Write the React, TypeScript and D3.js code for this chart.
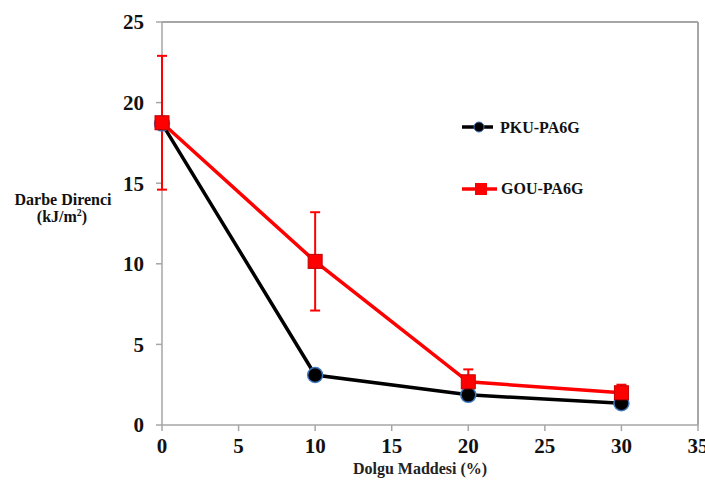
import React from 'react'
import * as d3 from 'd3'

// chart data
const fillerPct = [0, 10, 20, 30]
const pkuValues = [18.7, 3.1, 1.87, 1.35]
const gouValues = [18.75, 10.15, 2.68, 2.0]
const gouErrLow = [14.6, 7.1, 2.68, 2.0]
const gouErrHigh = [22.9, 13.2, 3.45, 2.5]
const xTicks = [0, 5, 10, 15, 20, 25, 30, 35]
const yTicks = [0, 5, 10, 15, 20, 25]

const W = 705, H = 486
const FONT = "'Liberation Serif', 'Times New Roman', serif"

const App = () => {
    const margin = { top: 22, right: 7, bottom: 61, left: 162 }
    const x = d3.scaleLinear().domain([0, 35]).range([margin.left, W - margin.right])
    const y = d3.scaleLinear().domain([0, 25]).range([H - margin.bottom, margin.top])

    const line = d3.line<number>()
        .x((d, i) => x(fillerPct[i]))
        .y(d => y(d))

    const axisColor = '#a6a6a6'
    const red = '#ff0000'
    const txt = { fontFamily: FONT, fontWeight: 'bold' as const }

    return (
        <div style={{ position: 'absolute', left: 0, top: 0 }}>
            <svg width={W} height={H} style={{ display: 'block', background: '#fff' }}>
                {/* frame */}
                <line x1={x(0)} x2={x(35)} y1={y(25)} y2={y(25)} stroke={axisColor} strokeWidth={2} />
                <line x1={x(35)} x2={x(35)} y1={y(25)} y2={y(0)} stroke={axisColor} strokeWidth={2} />
                <line x1={x(0)} x2={x(35)} y1={y(0)} y2={y(0)} stroke={axisColor} strokeWidth={1.5} />
                <line x1={x(0)} x2={x(0)} y1={y(25)} y2={y(0)} stroke={axisColor} strokeWidth={1.5} />

                {/* y axis */}
                {yTicks.map(t => (
                    <g key={'y' + t}>
                        <line x1={x(0) - 6} x2={x(0)} y1={y(t)} y2={y(t)} stroke={axisColor} strokeWidth={1.5} />
                        <text x={x(0) - 18} y={y(t)} dy="0.35em" textAnchor="end"
                            style={{ ...txt, fontSize: 21 }} fill="#111">{t}</text>
                    </g>
                ))}

                {/* x axis */}
                {xTicks.map(t => (
                    <g key={'x' + t}>
                        <line x1={x(t)} x2={x(t)} y1={y(0)} y2={y(0) + 6} stroke={axisColor} strokeWidth={1.5} />
                        <text x={x(t)} y={y(0) + 28} textAnchor="middle"
                            style={{ ...txt, fontSize: 21 }} fill="#111">{t}</text>
                    </g>
                ))}

                {/* axis titles */}
                <text x={420} y={474} textAnchor="middle" style={{ ...txt, fontSize: 16 }} fill="#222">
                    Dolgu Maddesi (%)
                </text>
                <text x={63} y={205} textAnchor="middle" style={{ ...txt, fontSize: 16 }} fill="#111">
                    Darbe Direnci
                </text>
                <text x={62} y={222} textAnchor="middle" style={{ ...txt, fontSize: 16 }} fill="#111">
                    (kJ/m<tspan dy={-6} style={{ fontSize: 10 }}>2</tspan><tspan dy={6}>)</tspan>
                </text>

                {/* GOU error bars */}
                {fillerPct.map((p, i) => (
                    <g key={'e' + i} stroke={red} strokeWidth={2}>
                        <line x1={x(p)} x2={x(p)} y1={y(gouErrLow[i])} y2={y(gouErrHigh[i])} />
                        <line x1={x(p) - 5} x2={x(p) + 5} y1={y(gouErrHigh[i])} y2={y(gouErrHigh[i])} />
                        <line x1={x(p) - 5} x2={x(p) + 5} y1={y(gouErrLow[i])} y2={y(gouErrLow[i])} />
                    </g>
                ))}

                {/* PKU series */}
                <path d={line(pkuValues) || ''} fill="none" stroke="#000" strokeWidth={3.5} />
                {pkuValues.map((v, i) => (
                    <circle key={'c' + i} cx={x(fillerPct[i])} cy={y(v)} r={7.5} fill="#000" stroke="#3d78c0" strokeWidth={1.5} />
                ))}

                {/* GOU series */}
                <path d={line(gouValues) || ''} fill="none" stroke={red} strokeWidth={3.5} />
                {gouValues.map((v, i) => (
                    <rect key={'r' + i} x={x(fillerPct[i]) - 7} y={y(v) - 7} width={14} height={14}
                        fill={red} stroke="#c00000" strokeWidth={1} />
                ))}

                {/* legend */}
                <line x1={462} x2={493} y1={127} y2={127} stroke="#000" strokeWidth={3.5} />
                <circle cx={479} cy={127} r={5} fill="#000" stroke="#3d78c0" strokeWidth={1} />
                <text x={500} y={133} style={{ ...txt, fontSize: 16 }} fill="#111">PKU-PA6G</text>

                <line x1={462} x2={497} y1={189} y2={189} stroke={red} strokeWidth={3.5} />
                <rect x={475} y={183} width={12} height={12} fill={red} />
                <text x={501} y={194} style={{ ...txt, fontSize: 16 }} fill="#111">GOU-PA6G</text>
            </svg>
        </div>
    )
}

export default App
